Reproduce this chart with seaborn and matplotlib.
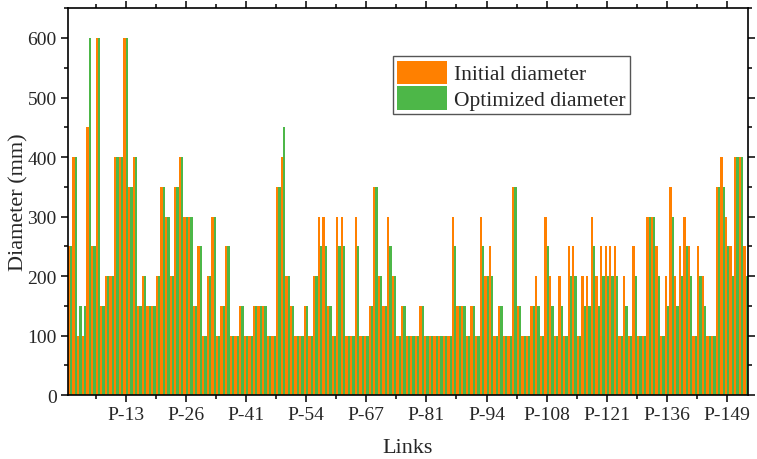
import numpy as np
import pandas as pd
import matplotlib
matplotlib.use("Agg")
import matplotlib.pyplot as plt
import seaborn as sns
from matplotlib.ticker import FixedLocator, MultipleLocator


# Pipe diameters per link (mm)

initial_diameter = [
    250, 400, 100, 100, 450, 250, 600, 150, 200, 200,
    400, 400, 600, 350, 400, 150, 200, 150, 150, 200,
    350, 300, 200, 350, 400, 300, 300, 150, 250, 100,
    200, 300, 100, 150, 250, 100, 100, 150, 100, 100,
    150, 150, 150, 100, 100, 350, 400, 200, 150, 100,
    100, 150, 100, 200, 300, 300, 150, 100, 300, 300,
    100, 100, 300, 100, 100, 150, 350, 200, 150, 300,
    200, 100, 150, 100, 100, 100, 150, 100, 100, 100,
    100, 100, 100, 300, 150, 150, 100, 150, 100, 300,
    200, 250, 100, 150, 100, 100, 350, 150, 100, 100,
    150, 200, 100, 300, 200, 100, 200, 100, 250, 250,
    100, 200, 200, 300, 200, 250, 250, 250, 250, 100,
    200, 100, 250, 100, 100, 300, 300, 250, 100, 200,
    350, 200, 250, 300, 250, 100, 250, 200, 100, 100,
    350, 400, 300, 250, 400, 400, 250
]

optimized_diameter = [
    250, 400, 150, 150, 600, 250, 600, 150, 200, 200,
    400, 400, 600, 350, 400, 150, 200, 150, 150, 200,
    350, 300, 200, 350, 400, 300, 300, 150, 250, 100,
    200, 300, 100, 150, 250, 100, 100, 150, 100, 100,
    150, 150, 150, 100, 100, 350, 450, 200, 150, 100,
    100, 150, 100, 200, 250, 250, 150, 100, 250, 250,
    100, 100, 250, 100, 100, 150, 350, 200, 150, 250,
    200, 100, 150, 100, 100, 100, 150, 100, 100, 100,
    100, 100, 100, 250, 150, 150, 100, 150, 100, 250,
    200, 200, 100, 150, 100, 100, 350, 150, 100, 100,
    150, 150, 100, 250, 150, 100, 150, 100, 200, 200,
    100, 150, 150, 250, 150, 200, 200, 200, 200, 100,
    150, 100, 200, 100, 100, 300, 300, 200, 100, 150,
    300, 150, 200, 250, 200, 100, 200, 150, 100, 100,
    350, 350, 250, 200, 400, 400, 200
]

tick_labels = [
    "P-13", "P-26", "P-41", "P-54", "P-67", "P-81",
    "P-94", "P-108", "P-121", "P-136", "P-149"
]

series_names = ["Initial diameter", "Optimized diameter"]
colors = ["#FF8000", "#4DB748"]


# Long table for seaborn

n_links = len(initial_diameter)

df = pd.DataFrame({
    "link": np.tile(np.arange(n_links), 2),
    "diameter": initial_diameter + optimized_diameter,
    "series": np.repeat(series_names, n_links)
})


sns.set_style("ticks")
plt.rcParams["font.family"] = ["Liberation Serif", "DejaVu Serif"]

fig = plt.figure(figsize=(7.57, 4.60), dpi=100)
ax = fig.add_axes([0.0895, 0.1391, 0.8986, 0.8408])

sns.barplot(
    data=df,
    x="link",
    y="diameter",
    hue="series",
    hue_order=series_names,
    palette=colors,
    width=1.0,
    gap=0,
    saturation=1,
    errorbar=None,
    linewidth=0,
    ax=ax
)

# x ticks: one labelled link every 13 bars
tick_step = 13
tick_pos = [12 + tick_step * k for k in range(len(tick_labels))]
ax.set_xticks(tick_pos)
ax.set_xticklabels(tick_labels, fontsize=14)
minor_pos = [p - tick_step / 2 for p in tick_pos]
ax.xaxis.set_minor_locator(FixedLocator(minor_pos))

ax.set_xlim(-0.5, n_links - 0.5)
ax.set_ylim(0, 650)
ax.yaxis.set_major_locator(FixedLocator([0, 100, 200, 300, 400, 500, 600]))
ax.yaxis.set_minor_locator(MultipleLocator(50))
ax.tick_params(axis="y", labelsize=14)

ax.tick_params(which="both", direction="out", top=True, right=True,
               color="black", width=1.1)
ax.tick_params(which="major", length=5, pad=3)
ax.tick_params(which="minor", length=3)

for side in ["left", "right", "top", "bottom"]:
    ax.spines[side].set_visible(True)
    ax.spines[side].set_color("black")
    ax.spines[side].set_linewidth(1.2)

ax.set_xlabel("Links", fontsize=16)
ax.set_ylabel("Diameter (mm)", fontsize=16)
ax.xaxis.set_label_coords(0.5, -0.112)
ax.yaxis.set_label_coords(-0.058, 0.5)

ax.legend(
    loc="upper left",
    bbox_to_anchor=(0.478, 0.876),
    fontsize=15.5,
    frameon=True,
    fancybox=False,
    edgecolor="#555555",
    framealpha=1,
    handlelength=2.3,
    handleheight=1.3,
    labelspacing=0.08,
    borderpad=0.2,
    handletextpad=0.35,
    borderaxespad=0
)
ax.get_legend().get_frame().set_linewidth(1.0)

fig.savefig("out.png", dpi=100)
plt.close(fig)
